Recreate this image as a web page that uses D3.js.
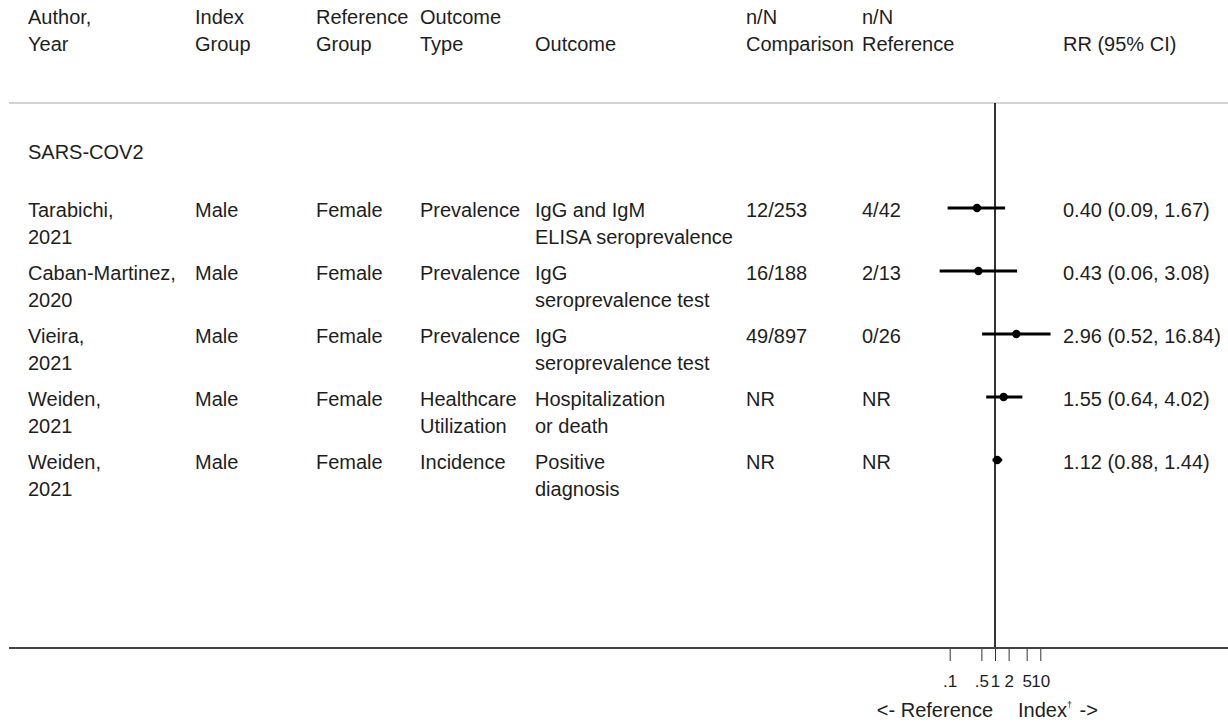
<!DOCTYPE html>
<html>
<head>
<meta charset="utf-8">
<script src="https://cdn.jsdelivr.net/npm/d3@7"></script>
<style>
  html, body { margin: 0; padding: 0; background: #fff; }
  svg { display: block; }
  text { font-family: "Liberation Sans", Arial, sans-serif; fill: #1e1e1e; }
</style>
</head>
<body>
<svg id="chart" width="1228" height="723"></svg>
<script>
// Study-level data
const authors = ["Tarabichi,", "Caban-Martinez,", "Vieira,", "Weiden,", "Weiden,"];
const years = ["2021", "2020", "2021", "2021", "2021"];
const indexGroups = ["Male", "Male", "Male", "Male", "Male"];
const referenceGroups = ["Female", "Female", "Female", "Female", "Female"];
const outcomeTypes = [["Prevalence"], ["Prevalence"], ["Prevalence"], ["Healthcare", "Utilization"], ["Incidence"]];
const outcomes = [
  ["IgG and IgM", "ELISA seroprevalence"],
  ["IgG", "seroprevalence test"],
  ["IgG", "seroprevalence test"],
  ["Hospitalization", "or death"],
  ["Positive", "diagnosis"]
];
const nComparison = ["12/253", "16/188", "49/897", "NR", "NR"];
const nReference = ["4/42", "2/13", "0/26", "NR", "NR"];
const rr = [0.40, 0.43, 2.96, 1.55, 1.12];
const rrLow = [0.09, 0.06, 0.52, 0.64, 0.88];
const rrHigh = [1.67, 3.08, 16.84, 4.02, 1.44];

const groupLabel = "SARS-COV2";
const tickValues = [0.1, 0.5, 1, 2, 5, 10];
const tickLabels = [".1", ".5", "1", "2", "5", "10"];

const headers = [
  ["Author,", "Year"],
  ["Index", "Group"],
  ["Reference", "Group"],
  ["Outcome", "Type"],
  ["", "Outcome"],
  ["n/N", "Comparison"],
  ["n/N", "Reference"],
  ["", "RR (95% CI)"]
];

// Layout
const W = 1228, H = 723;
const colX = [28, 195, 316, 420, 535, 746, 862, 1063];
const fontSize = 20;
const lineGap = 27;
const textDrop = 9;
const headerY = [24, 51];
const ruleTop = 103;
const axisY = 648;

const svg = d3.select("#chart");

const fmt = d3.format(".2f");
const rows = authors.map((a, i) => ({
  cells: [
    [a, years[i]],
    [indexGroups[i]],
    [referenceGroups[i]],
    outcomeTypes[i],
    outcomes[i],
    [nComparison[i]],
    [nReference[i]],
    [`${fmt(rr[i])} (${fmt(rrLow[i])}, ${fmt(rrHigh[i])})`]
  ],
  rr: rr[i], lo: rrLow[i], hi: rrHigh[i]
}));

// Scales
const x = d3.scaleLog().domain([0.1, 10]).range([949.7, 1040.3]);
const y = d3.scalePoint().domain(d3.range(rows.length)).range([208, 460]);

// Column headers
headers.forEach((h, c) => {
  h.forEach((t, l) => {
    if (!t) return;
    svg.append("text")
      .attr("x", colX[c]).attr("y", headerY[l])
      .attr("font-size", fontSize)
      .text(t);
  });
});

// Header separator
svg.append("line")
  .attr("x1", 9).attr("x2", W)
  .attr("y1", ruleTop).attr("y2", ruleTop)
  .attr("stroke", "#d3d3d3").attr("stroke-width", 2);

// Null line at RR = 1
svg.append("line")
  .attr("x1", x(1)).attr("x2", x(1))
  .attr("y1", ruleTop).attr("y2", axisY)
  .attr("stroke", "#000").attr("stroke-width", 1.6);

// Group heading
svg.append("text")
  .attr("x", colX[0]).attr("y", 159)
  .attr("font-size", fontSize)
  .text(groupLabel);

// Study rows
const rowG = svg.selectAll("g.row").data(rows).join("g")
  .attr("class", "row")
  .attr("transform", (d, i) => `translate(0,${y(i)})`);

rowG.each(function(d) {
  const g = d3.select(this);
  d.cells.forEach((lines, c) => {
    lines.forEach((t, l) => {
      g.append("text")
        .attr("x", colX[c]).attr("y", textDrop + l * lineGap)
        .attr("font-size", fontSize)
        .text(t);
    });
  });
  g.append("line")
    .attr("x1", x(d.lo)).attr("x2", x(d.hi))
    .attr("y1", 0).attr("y2", 0)
    .attr("stroke", "#000").attr("stroke-width", 2.8);
  g.append("circle")
    .attr("cx", x(d.rr)).attr("cy", 0).attr("r", 4.2)
    .attr("fill", "#000");
});

// X axis
svg.append("line")
  .attr("x1", 9).attr("x2", W)
  .attr("y1", axisY).attr("y2", axisY)
  .attr("stroke", "#444").attr("stroke-width", 2);

const axis = d3.axisBottom(x)
  .tickValues(tickValues)
  .tickFormat((d, i) => tickLabels[i])
  .tickSize(12)
  .tickPadding(14);

const axG = svg.append("g")
  .attr("transform", `translate(0,${axisY + 1})`)
  .call(axis);
axG.select(".domain").remove();
axG.selectAll(".tick line").attr("stroke", "#333").attr("stroke-width", 1);
axG.selectAll(".tick text")
  .attr("font-size", 17)
  .attr("font-family", "Liberation Sans, Arial, sans-serif")
  .attr("fill", "#1e1e1e");

// Direction labels under the axis
svg.append("text")
  .attr("x", x(1) - 2).attr("y", 717)
  .attr("text-anchor", "end")
  .attr("font-size", fontSize)
  .text("<- Reference");

const idx = svg.append("text")
  .attr("x", 1018).attr("y", 717)
  .attr("font-size", fontSize);
idx.append("tspan").text("Index");
idx.append("tspan").attr("dy", -9).attr("font-size", 9).text("†");
idx.append("tspan").attr("dy", 9).attr("dx", 2).text(" ->");
</script>
</body>
</html>
